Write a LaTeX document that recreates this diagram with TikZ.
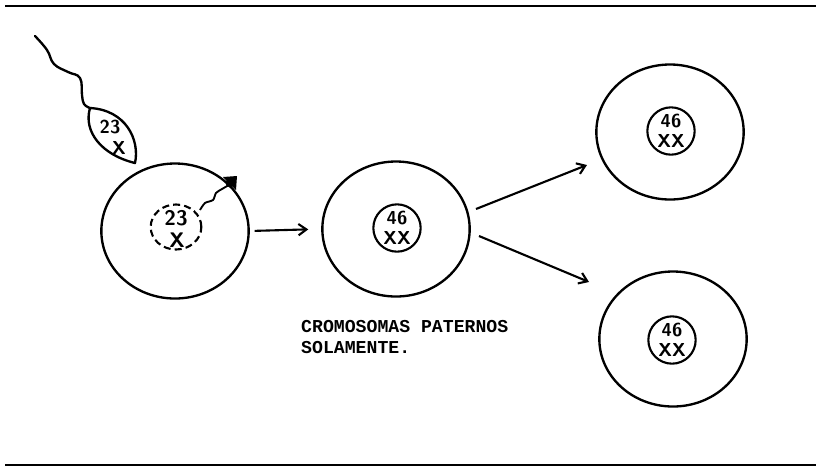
\documentclass[tikz,border=0pt]{standalone}
\usepackage{fontspec}
\setmonofont{Liberation Mono}
\usepackage{tikz}
\usetikzlibrary{arrows.meta,shapes.geometric}

\begin{document}
\begin{tikzpicture}[x=0.03cm,y=-0.03cm,
    cell/.style={draw,ellipse,line width=2pt,minimum width=4.42cm,minimum height=4.05cm,inner sep=0pt},
    nucleus/.style={draw,circle,line width=1.8pt,minimum size=1.42cm,inner sep=0pt,align=center,
      font=\sffamily\bfseries\fontsize{16}{17.5}\selectfont},
    hand/.style={font=\sffamily\bfseries\fontsize{18}{18}\selectfont,inner sep=0pt},
    arr/.style={line width=1.8pt,-{Straight Barb[length=2.4mm,width=3.4mm]}}]
  \useasboundingbox (0,0) rectangle (821,467);
  % frame rules
  \draw[line width=1.8pt] (5,6) -- (816,6);
  \draw[line width=1.5pt] (5,465) -- (816,465);

  % cells
  \node[cell] (egg) at (175,231) {};
  \node[cell] (zygote) at (396,229) {};
  \node[cell] (dtop) at (670,132) {};
  \node[cell] (dbot) at (673,339) {};

  % nuclei
  \node[draw,ellipse,dashed,dash pattern=on 6pt off 3.5pt,line width=1.8pt,minimum width=1.52cm,
    minimum height=1.35cm,inner sep=0pt] (eggnuc) at (176,227) {};
  \node[hand] (eggn) at (176,218) {23};
  \node[hand] (eggx) at (177,240) {X};
  \node[nucleus] (zygnuc) at (397,228) {46\\XX};
  \node[nucleus] (topnuc) at (671,131) {46\\XX};
  \node[nucleus] (botnuc) at (672,340) {46\\XX};

  % sperm approaching
  \draw[line width=2pt,line cap=round] plot[smooth,tension=0.7] coordinates
    {(35,36) (47,50) (54,64) (68,72) (80,78) (82,95) (84,104) (90,108)};
  \draw[line width=2pt,line join=round] (90,108) .. controls (83,132) and (102,155) .. (135,163)
    .. controls (140,140) and (126,110) .. (90,108);
  \node[hand,font=\sffamily\bfseries\fontsize{16}{16}\selectfont] (spn) at (110,127) {23};
  \node[hand,font=\sffamily\bfseries\fontsize{16}{16}\selectfont] (spx) at (119,148) {X};

  % sperm inside the egg
  \draw[line width=1.6pt] plot[smooth] coordinates
    {(229,185) (222,189) (216,193) (213,200) (205,203) (200,210)};
  \fill (230,183) circle (3.8pt);
  \fill (223,177) -- (237,176) -- (236,190) -- cycle;

  % arrows
  \coordinate (up1) at (476,209);
  \coordinate (up2) at (587,165);
  \coordinate (dn1) at (479,236);
  \coordinate (dn2) at (589,282);
  \draw[arr,shorten <=4pt,shorten >=11pt] (egg.east) -- (zygote.west);
  \draw[arr] (up1) -- (up2);
  \draw[arr] (dn1) -- (dn2);

  \node[anchor=north west,align=left,inner sep=0pt,
    font=\ttfamily\bfseries\fontsize{15.5}{18}\selectfont] (label) at (301,320)
    {CROMOSOMAS PATERNOS\\SOLAMENTE.};
\end{tikzpicture}
\end{document}
